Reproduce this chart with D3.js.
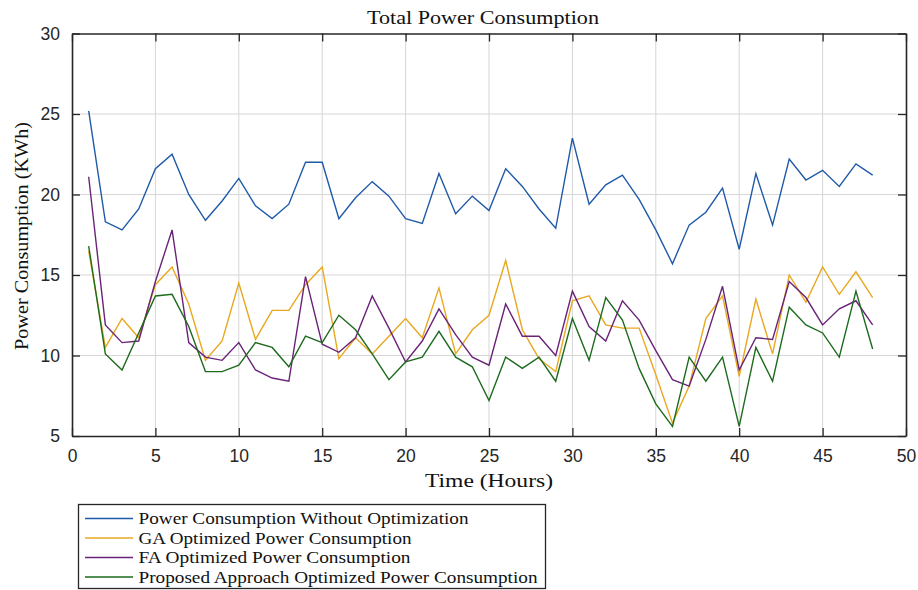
<!DOCTYPE html>
<html><head><meta charset="utf-8">
<script src="https://cdn.jsdelivr.net/npm/d3@7"></script>
<style>
html,body{margin:0;padding:0;background:#fff;}
svg{display:block;}
</style></head>
<body>
<svg id="chart" width="918" height="590"></svg>
<script>
const hours = [1,2,3,4,5,6,7,8,9,10,11,12,13,14,15,16,17,18,19,20,21,22,23,24,25,26,27,28,29,30,31,32,33,34,35,36,37,38,39,40,41,42,43,44,45,46,47,48];
const withoutOpt = [25.2,18.3,17.8,19.1,21.6,22.5,20.0,18.4,19.6,21.0,19.3,18.5,19.4,22.0,22.0,18.5,19.8,20.8,19.9,18.5,18.2,21.3,18.8,19.9,19.0,21.6,20.5,19.1,17.9,23.5,19.4,20.6,21.2,19.7,17.8,15.7,18.1,18.9,20.4,16.6,21.3,18.1,22.2,20.9,21.5,20.5,21.9,21.2];
const gaOpt = [16.5,10.5,12.3,11.1,14.4,15.5,13.2,9.7,10.9,14.5,11.0,12.8,12.8,14.4,15.5,9.8,11.1,10.1,11.2,12.3,11.1,14.2,10.1,11.6,12.5,15.9,11.6,9.8,9.0,13.4,13.7,11.9,11.7,11.7,8.8,5.8,8.1,12.3,13.7,8.7,13.5,10.1,15.0,13.3,15.5,13.8,15.2,13.6];
const faOpt = [21.1,11.9,10.8,10.9,14.6,17.8,10.8,9.9,9.7,10.8,9.1,8.6,8.4,14.9,10.7,10.2,11.1,13.7,11.7,9.6,10.9,12.9,11.3,9.9,9.4,13.2,11.2,11.2,10.0,14.0,11.8,10.9,13.4,12.2,10.3,8.5,8.1,11.0,14.3,9.1,11.1,11.0,14.6,13.6,11.9,12.9,13.4,11.9];
const proposedOpt = [16.8,10.1,9.1,11.4,13.7,13.8,11.8,9.0,9.0,9.4,10.8,10.5,9.3,11.2,10.8,12.5,11.6,10.1,8.5,9.6,9.9,11.5,9.9,9.3,7.2,9.9,9.2,9.9,8.4,12.3,9.7,13.6,12.2,9.2,7.0,5.6,9.9,8.4,9.9,5.6,10.5,8.4,13.0,11.9,11.4,9.9,14.0,10.4];
const seriesNames = ["Power Consumption Without Optimization","GA Optimized Power Consumption","FA Optimized Power Consumption","Proposed Approach Optimized Power Consumption"];
const xTicks = [0,5,10,15,20,25,30,35,40,45,50];
const yTicks = [5,10,15,20,25,30];
const titleText = "Total Power Consumption";
const xLabel = "Time (Hours)";
const yLabel = "Power Consumption (KWh)";

const colors = ["#1f5aa8","#e8a820","#6a2378","#1d6a1d"];
const allSeries = [withoutOpt, gaOpt, faOpt, proposedOpt];

const svg = d3.select("#chart");
const L = 72, R = 906, T = 33.5, B = 436;
const x = d3.scaleLinear().domain([0,50]).range([L,R]);
const y = d3.scaleLinear().domain([5,30]).range([B,T]);
const serif = "'Liberation Serif','Times New Roman',serif";
const sans = "'Liberation Sans',Arial,sans-serif";

// grid
svg.append("g").selectAll("line").data(xTicks.slice(1,-1)).join("line")
  .attr("x1",d=>x(d)).attr("x2",d=>x(d)).attr("y1",T).attr("y2",B)
  .attr("stroke","#d6d6d6").attr("stroke-width",1);
svg.append("g").selectAll("line").data(yTicks.slice(1,-1)).join("line")
  .attr("x1",L).attr("x2",R).attr("y1",d=>y(d)).attr("y2",d=>y(d))
  .attr("stroke","#d6d6d6").attr("stroke-width",1);

// axes
const tickLen = 8;
const xb = svg.append("g").attr("transform",`translate(0,${B})`)
  .call(d3.axisBottom(x).tickValues(xTicks).tickSizeInner(-tickLen).tickSizeOuter(0).tickPadding(14));
const xt = svg.append("g").attr("transform",`translate(0,${T})`)
  .call(d3.axisTop(x).tickValues(xTicks).tickSizeInner(-tickLen).tickSizeOuter(0).tickFormat(""));
const yl = svg.append("g").attr("transform",`translate(${L},0)`)
  .call(d3.axisLeft(y).tickValues(yTicks).tickSizeInner(-tickLen).tickSizeOuter(0).tickPadding(12));
const yr = svg.append("g").attr("transform",`translate(${R},0)`)
  .call(d3.axisRight(y).tickValues(yTicks).tickSizeInner(-tickLen).tickSizeOuter(0).tickFormat(""));
[xb,xt,yl,yr].forEach(g=>{
  g.select(".domain").attr("stroke","#262626").attr("stroke-width",1.6);
  g.selectAll(".tick line").attr("stroke","#262626").attr("stroke-width",1.3);
  g.selectAll("text").attr("fill","#262626").style("font-family",sans).style("font-size","17.5px");
});

// lines
const line = d3.line().x((d,i)=>x(hours[i])).y(d=>y(d));
allSeries.forEach((s,k)=>{
  svg.append("path").datum(s).attr("d",line).attr("fill","none")
    .attr("stroke",colors[k]).attr("stroke-width",1.4).attr("stroke-linejoin","miter");
});

// title and labels
svg.append("text").attr("x",(L+R)/2 - 6).attr("y",24).attr("text-anchor","middle")
  .style("font-family",serif).style("font-size","19px").attr("fill","#111")
  .attr("textLength",232).attr("lengthAdjust","spacingAndGlyphs").text(titleText);
svg.append("text").attr("x",489).attr("y",487).attr("text-anchor","middle")
  .style("font-family",serif).style("font-size","19.5px").attr("fill","#111")
  .attr("textLength",128).attr("lengthAdjust","spacingAndGlyphs").text(xLabel);
svg.append("text").attr("transform","translate(28,236) rotate(-90)").attr("text-anchor","middle")
  .style("font-family",serif).style("font-size","18px").attr("fill","#111")
  .attr("textLength",228).attr("lengthAdjust","spacingAndGlyphs").text(yLabel);

// legend
const lg = svg.append("g");
lg.append("rect").attr("x",78.5).attr("y",504.5).attr("width",467).attr("height",84)
  .attr("fill","#fff").attr("stroke","#262626").attr("stroke-width",1.3);
const legendLens = [330,273,272,399];
seriesNames.forEach((n,k)=>{
  const cy = 518.5 + k*19.5;
  lg.append("line").attr("x1",85).attr("x2",133).attr("y1",cy).attr("y2",cy)
    .attr("stroke",colors[k]).attr("stroke-width",1.4);
  lg.append("text").attr("x",138.5).attr("y",cy+5.5)
    .style("font-family",serif).style("font-size","16.5px").attr("fill","#111")
    .attr("textLength",legendLens[k]).attr("lengthAdjust","spacingAndGlyphs").text(n);
});
</script>
</body></html>
